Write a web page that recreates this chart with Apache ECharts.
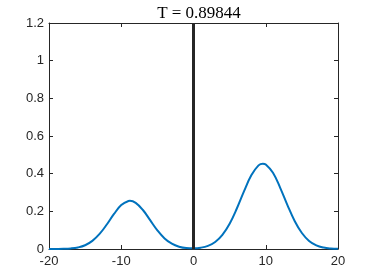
<!DOCTYPE html>
<html><head><meta charset="utf-8">
<script src="https://cdn.jsdelivr.net/npm/echarts@6/dist/echarts.min.js"></script>
<style>html,body{margin:0;padding:0;background:#fff}#c{width:374px;height:280px}</style>
</head><body><div id="c"></div>
<script>
const titleText = 'T = 0.89844';
const xValues = [-20,-19,-18,-17,-16,-15,-14,-13,-12,-11,-10,-9,-8.8,-8,-7,-6,-5,-4,-3,-2,-1,0,1,2,3,4,5,6,7,8,9,9.6,10,11,12,13,14,15,16,17,18,19,20];
const yValues = [0.0001,0.0003,0.0009,0.003,0.0083,0.020,0.043,0.080,0.130,0.186,0.233,0.255,0.256,0.245,0.207,0.153,0.099,0.056,0.028,0.012,0.005,0.004,0.007,0.0164,0.037,0.075,0.134,0.215,0.307,0.391,0.444,0.453,0.449,0.405,0.325,0.233,0.149,0.085,0.043,0.0195,0.0079,0.0028,0.0009];
const markerX = [0, 0];
const markerY = [0, 1.2];
const xTicks = [-20,-10,0,10,20];
const yTicks = [0,0.2,0.4,0.6,0.8,1,1.2];

const axisColor = '#262626';
const curve = xValues.map((x,i)=>[x,yValues[i]]);
const marker = markerX.map((x,i)=>[x,markerY[i]]);
const chart = echarts.init(document.getElementById('c'), null, {renderer:'canvas'});
const labelFont = {fontFamily:'Liberation Sans, Arial, sans-serif', fontSize:13, color:axisColor};
chart.setOption({
  animation:false,
  title:{text:titleText, left:194, top:0, textAlign:'center',
    textStyle:{fontFamily:'Liberation Serif, serif', fontSize:17, fontWeight:'normal', color:'#000'}},
  grid:{left:49, right:36, top:23, bottom:31},
  xAxis:[{type:'value', min:-20, max:20, interval:10, position:'bottom',
    axisLine:{onZero:false, lineStyle:{color:axisColor, width:1}},
    axisTick:{inside:true, length:4, lineStyle:{color:axisColor}},
    axisLabel:Object.assign({margin:6, formatter:v=>String(v)}, labelFont),
    splitLine:{show:false}},
   {type:'value', min:-20, max:20, interval:10, position:'top',
    axisLine:{onZero:false, lineStyle:{color:axisColor, width:1}},
    axisTick:{inside:true, length:4, lineStyle:{color:axisColor}},
    axisLabel:{show:false}, splitLine:{show:false}}],
  yAxis:[{type:'value', min:0, max:1.2, interval:0.2, position:'left',
    axisLine:{show:true, onZero:false, lineStyle:{color:axisColor, width:1}},
    axisTick:{show:true, inside:true, length:4, lineStyle:{color:axisColor}},
    axisLabel:Object.assign({margin:5, formatter:v=>String(+v.toFixed(1))}, labelFont),
    splitLine:{show:false}},
   {type:'value', min:0, max:1.2, interval:0.2, position:'right',
    axisLine:{show:true, onZero:false, lineStyle:{color:axisColor, width:1}},
    axisTick:{show:true, inside:true, length:4, lineStyle:{color:axisColor}},
    axisLabel:{show:false}, splitLine:{show:false}}],
  series:[
    {type:'line', data:curve, smooth:0.4, showSymbol:false, symbol:'none',
      lineStyle:{color:'#0072BD', width:2}, z:3},
    {type:'line', data:marker, showSymbol:false, symbol:'none',
      lineStyle:{color:'#262626', width:3}, z:4}
  ]
});
</script></body></html>
